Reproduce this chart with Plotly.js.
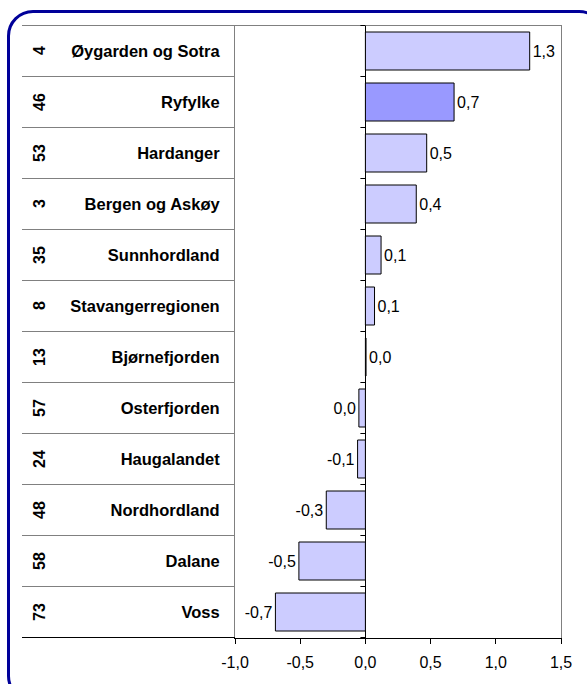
<!DOCTYPE html>
<html>
<head>
<meta charset="utf-8">
<script src="https://cdn.plot.ly/plotly-3.0.1.min.js"></script>
<style>
  html, body { margin: 0; padding: 0; background: #ffffff; overflow: hidden; }
  #wrap { position: relative; width: 587px; height: 684px; overflow: hidden; }
  #chart { position: absolute; left: 0; top: 0; width: 587px; height: 684px; }
  #frame { position: absolute; left: 7px; top: 10px; width: 598px; height: 692px;
           border: 3px solid #000099; border-radius: 26px; box-sizing: border-box; pointer-events: none; }
</style>
</head>
<body>
<div id="wrap">
  <div id="chart"></div>
  <div id="frame"></div>
</div>
<script>
// ---- data ----
const ids = [4, 46, 53, 3, 35, 8, 13, 57, 24, 48, 58, 73];
const regions = ["Øygarden og Sotra", "Ryfylke", "Hardanger", "Bergen og Askøy", "Sunnhordland",
  "Stavangerregionen", "Bjørnefjorden", "Osterfjorden", "Haugalandet", "Nordhordland", "Dalane", "Voss"];
const values = [1.26, 0.68, 0.47, 0.39, 0.12, 0.07, 0.005, -0.05, -0.06, -0.30, -0.51, -0.69];
const highlighted = "Ryfylke";
const xTicks = [-1.0, -0.5, 0.0, 0.5, 1.0, 1.5];

// ---- styling ----
const W = 587, H = 684;
const M = { l: 235, r: 26, t: 25, b: 46 };
const plotW = W - M.l - M.r;
const toPaperX = px => (px - M.l) / plotW;
const FONT = "Liberation Sans, Arial, sans-serif";

function fmt(v) {
  let r = Math.round(v * 10) / 10;
  if (Math.abs(r) < 0.05) r = 0;
  return r.toFixed(1).replace('.', ',');
}

const barColors = regions.map(r => r === highlighted ? '#9999ff' : '#ccccff');

const trace = {
  type: 'bar',
  orientation: 'h',
  y: regions,
  x: values,
  marker: { color: barColors, line: { color: '#000000', width: 1 } },
  text: values.map(fmt),
  textposition: 'outside',
  cliponaxis: false,
  textfont: { family: FONT, size: 16, color: '#000000' },
  hoverinfo: 'skip'
};

const shapes = [];
const n = regions.length;
// row separators in the label area (and top frame line)
for (let k = 0; k <= n; k++) {
  shapes.push({
    type: 'line', xref: 'paper', yref: 'y',
    x0: toPaperX(22), x1: k === 0 ? 1 : 0,
    y0: k - 0.5, y1: k - 0.5,
    line: { color: k === n ? '#000000' : '#808080', width: 1 }
  });
}
// category ticks on the zero line
for (let k = 0; k <= n; k++) {
  shapes.push({
    type: 'line', xref: 'x', yref: 'y', xsizemode: 'pixel', xanchor: 0,
    x0: -5, x1: 0, y0: k - 0.5, y1: k - 0.5,
    line: { color: '#000000', width: 1 }
  });
}

const annotations = ids.map((id, i) => ({
  xref: 'paper', yref: 'y',
  x: toPaperX(39), y: regions[i],
  text: String(id), showarrow: false, textangle: -90,
  font: { family: FONT, size: 16, color: '#000000', weight: 'bold' },
  xanchor: 'center', yanchor: 'middle'
}));

const layout = {
  width: W, height: H,
  margin: M,
  paper_bgcolor: '#ffffff', plot_bgcolor: '#ffffff',
  separators: ', ',
  showlegend: false,
  bargap: 0.255,
  font: { family: FONT, size: 16, color: '#000000' },
  xaxis: {
    range: [-1, 1.5],
    tickvals: xTicks,
    ticktext: xTicks.map(v => v.toFixed(1).replace('.', ',')),
    ticks: 'outside', ticklen: 5, tickcolor: '#000000', tickwidth: 1,
    ticklabelstandoff: 5,
    showline: true, linecolor: '#000000', linewidth: 1,
    showgrid: false,
    zeroline: true, zerolinecolor: '#000000', zerolinewidth: 1,
    tickfont: { family: FONT, size: 16, color: '#000000' },
    fixedrange: true
  },
  yaxis: {
    autorange: 'reversed',
    type: 'category',
    showline: true, linecolor: '#808080', linewidth: 1, mirror: true,
    showgrid: false, zeroline: false, ticks: '',
    ticklabelstandoff: 11,
    tickfont: { family: FONT, size: 16.5, color: '#000000', weight: 'bold' },
    fixedrange: true
  },
  shapes: shapes,
  annotations: annotations
};

Plotly.newPlot('chart', [trace], layout, { displayModeBar: false, staticPlot: true });
</script>
</body>
</html>
